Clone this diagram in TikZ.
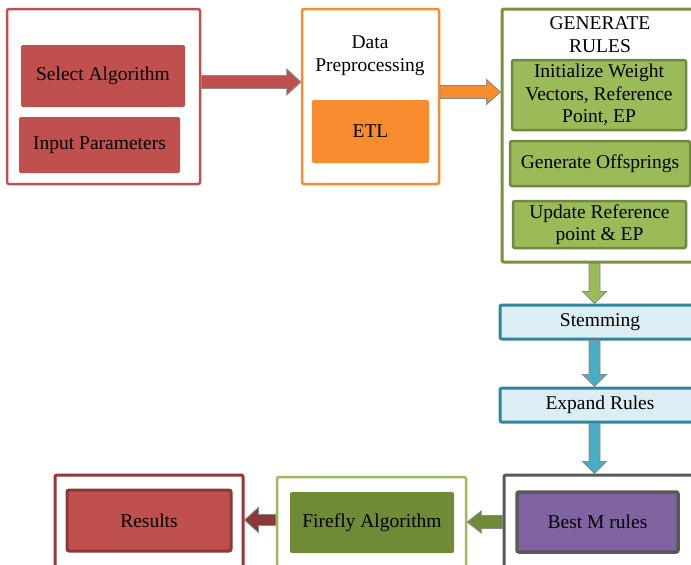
\documentclass[tikz,border=0pt]{standalone}
\usepackage{fontspec}
\setmainfont{Liberation Serif}
\usetikzlibrary{calc}
\definecolor{cred}{HTML}{C0504D}
\definecolor{cdred}{HTML}{953735}
\definecolor{cdred2}{HTML}{8C3836}
\definecolor{corange}{HTML}{F68C2D}
\definecolor{cgreen}{HTML}{9BBB59}
\definecolor{cgreenb}{HTML}{77933C}
\definecolor{cgreenin}{HTML}{71893F}
\definecolor{colive}{HTML}{6F8B35}
\definecolor{cltblue}{HTML}{DAEEF3}
\definecolor{cteal}{HTML}{31859C}
\definecolor{cblue}{HTML}{4BACC6}
\definecolor{cpurple}{HTML}{8064A2}
\definecolor{cgray}{HTML}{595959}
\definecolor{carrline}{HTML}{8A8A8A}
\newcommand\blkarrow[6]{% #1 fill, #2 start, #3 end, #4 shaft half, #5 head half, #6 head length
  \path ($(#3)!#6!(#2)$) coordinate (tmpH);
  \draw[blk, fill=#1] ($(#2)!#4!90:(#3)$) -- ($(tmpH)!#4!-90:(#2)$) -- ($(tmpH)!#5!-90:(#2)$)
    -- (#3) -- ($(tmpH)!#5!90:(#2)$) -- ($(tmpH)!#4!90:(#2)$) -- ($(#2)!#4!-90:(#3)$) -- cycle;
}
\tikzset{
  txt/.style={font=\fontsize{19.5}{22.5}\selectfont, text=black, align=center, inner sep=0pt},
  frame/.style={draw, rounded corners=2pt, minimum width=#1},
  blk/.style={draw=carrline, line width=0.9pt, line join=miter},
}
\begin{document}
\begin{tikzpicture}[x=1pt,y=-1pt]
\useasboundingbox (0,0) rectangle (691,565);
\fill[white] (0,0) rectangle (691,565);
% box 1
\node[frame=193pt, draw=cred, line width=2.5pt, minimum height=175pt] (box1) at (103.5,96.5) {};
\node[txt, fill=cred, rounded corners=2pt, minimum width=164pt, minimum height=62pt] (sel) at (103,76) {Select Algorithm};
\node[txt, fill=cred, rounded corners=2pt, minimum width=161pt, minimum height=56pt] (inp) at (99.5,145) {Input Parameters};
% box 2
\node[frame=137pt, draw=corange, line width=2.5pt, minimum height=175pt] (box2) at (370.5,96.5) {};
\node[txt] (t2) at (370,55.5) {Data\\Preprocessing};
\node[txt, fill=corange, rounded corners=2pt, minimum width=117pt, minimum height=63pt] (etl) at (370.5,131.5) {ETL};
% box 3
\node[frame=198pt, draw=cgreenb, line width=3pt, minimum height=253pt] (box3) at (601,135.5) {};
\node[txt] (t3) at (600,34.5) {GENERATE\\RULES};
\node[txt, fill=cgreen, draw=cgreenin, line width=2.5pt, rounded corners=2pt, minimum width=174pt, minimum height=70pt] (init) at (599,95) {Initialize Weight\\Vectors, Reference\\Point, EP};
\node[txt, fill=cgreen, draw=cgreenin, line width=2.5pt, rounded corners=2pt, minimum width=180pt, minimum height=45pt] (gen) at (600,163.5) {Generate Offsprings};
\node[txt, fill=cgreen, draw=cgreenin, line width=2.5pt, rounded corners=2pt, minimum width=173pt, minimum height=47pt] (upd) at (599.5,224.5) {Update Reference\\point \& EP};
% stemming / expand
\node[txt, fill=cltblue, draw=cteal, line width=3pt, rounded corners=2pt, minimum width=200pt, minimum height=34pt] (stem) at (600,322) {Stemming};
\node[txt, fill=cltblue, draw=cteal, line width=3pt, rounded corners=2pt, minimum width=200pt, minimum height=34pt] (exp) at (600,405) {Expand Rules};
% best M rules
\node[frame=196pt, draw=cgray, line width=3pt, minimum height=100pt] (best) at (602,525) {};
\node[txt, fill=cpurple, draw=cgray, line width=3.5pt, rounded corners=2pt, minimum width=161pt, minimum height=60pt] (bestin) at (597.5,522) {Best M rules};
% firefly
\node[frame=189pt, draw=cgreen, line width=2.5pt, minimum height=98pt] (ff) at (371.5,526) {};
\node[txt, fill=colive, rounded corners=2pt, minimum width=164pt, minimum height=61pt] (ffin) at (372,522.5) {Firefly Algorithm};
% results
\node[frame=188pt, draw=cdred, line width=3pt, minimum height=100pt] (res) at (149,525) {};
\node[txt, fill=cred, draw=cdred2, line width=3pt, rounded corners=2pt, minimum width=164pt, minimum height=61pt] (resin) at (149,520.5) {Results};
% arrows
\coordinate (a1s) at (box1.east |- 0,82);
\coordinate (a1e) at (box2.west |- 0,82);
\blkarrow{cred}{a1s}{a1e}{6.5pt}{13pt}{14pt}
\coordinate (a2s) at (box2.east |- 0,92);
\coordinate (a2e) at (box3.west |- 0,92);
\blkarrow{corange}{a2s}{a2e}{6.5pt}{12.5pt}{14pt}
\coordinate (a3s) at (box3.south -| 594.5,0);
\coordinate (a3e) at (stem.north -| 594.5,0);
\blkarrow{cgreen}{a3s}{a3e}{5.5pt}{12pt}{12pt}
\coordinate (a4s) at (stem.south -| 594.5,0);
\coordinate (a4e) at (exp.north -| 594.5,0);
\blkarrow{cblue}{a4s}{a4e}{5.5pt}{12pt}{12pt}
\coordinate (a5s) at (exp.south -| 594.5,0);
\coordinate (a5e) at (best.north -| 594.5,0);
\blkarrow{cblue}{a5s}{a5e}{5.5pt}{12pt}{12pt}
\coordinate (a6s) at (best.west |- 0,522);
\coordinate (a6e) at (ff.east |- 0,522);
\blkarrow{colive}{a6s}{a6e}{6.5pt}{11pt}{14pt}
\coordinate (a7s) at (ff.west |- 0,520);
\coordinate (a7e) at (res.east |- 0,520);
\blkarrow{cdred2}{a7s}{a7e}{5.5pt}{12.5pt}{14pt}
\end{tikzpicture}
\end{document}
